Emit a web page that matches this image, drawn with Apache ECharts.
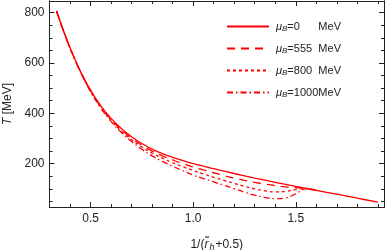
<!DOCTYPE html>
<html><head><meta charset="utf-8">
<script src="https://cdn.jsdelivr.net/npm/echarts@6/dist/echarts.min.js"></script>
<style>html,body{margin:0;padding:0;background:#fff}#c{width:386px;height:250px}</style>
</head><body><div id="c"></div>
<script>
// ---- data ----
const seriesNames = ['μB=0', 'μB=555', 'μB=800', 'μB=1000'];
const legendValues = ['=0', '=555', '=800', '=1000'];
const xSolid = [0.334,0.367,0.4,0.45,0.5,0.55,0.6,0.65,0.7,0.75,0.8,0.85,0.9,0.95,1.0,1.1,1.2,1.3,1.4,1.5,1.6,1.7,1.8,1.9];
const tSolid = [806,730,660,568,492,430,380,340,307,280,258,240,225,212,200,180,161,143,126,110,94,79,63,47];
const xMu = [0.334,0.367,0.4,0.45,0.5,0.55,0.6,0.65,0.7,0.75,0.8,0.85,0.9,0.95,1.0,1.05,1.1,1.15,1.2,1.25,1.3,1.35,1.4,1.45,1.5,1.55,1.6];
const t555 = [806,730,660,567,490,427,376,335,301,273,250,231,215,200,187,175,164,153,143,134,126,119,113,108,105,102,94];
const t800 = [806,730,659,566,488,424,372,330,295,266,242,222,204,188,173,159,146,134,122,110,100,92,88,90,97,102,94];
const t1000 = [806,730,659,565,486,421,368,324,288,257,231,209,190,172,155,141,128,114,101,87,75,66,61,64,80,100,94];
const xMajor = [0.5, 1.0, 1.5];
const xMinor = [0.3,0.4,0.5,0.6,0.7,0.8,0.9,1.0,1.1,1.2,1.3,1.4,1.5,1.6,1.7,1.8,1.9];
const yMajor = [200, 400, 600, 800];
const yMinor = [50,100,150,200,250,300,350,400,450,500,550,600,650,700,750,800];
const xRange = [0.3, 1.93];
const yRange = [28, 846];

// ---- chart ----
const frameColor = '#222';
const font = "'Liberation Sans', Arial, sans-serif";
function pairs(xs, ys) { return xs.map((x, i) => [x, ys[i]]); }

function xAx(pos, ticks, len, labels, extra) {
  return Object.assign({
    type: 'value', position: pos, min: xRange[0], max: xRange[1],
    axisLine: { show: true, onZero: false, lineStyle: { color: frameColor, width: 1 } },
    axisTick: { show: true, inside: true, length: len, customValues: ticks, lineStyle: { color: frameColor } },
    axisLabel: labels ? { show: true, customValues: ticks, formatter: v => v.toFixed(1), color: '#222', fontSize: 12, fontFamily: font, margin: 6 } : { show: false },
    splitLine: { show: false }
  }, extra || {});
}
function yAx(pos, ticks, len, labels, extra) {
  return Object.assign({
    type: 'value', position: pos, min: yRange[0], max: yRange[1],
    axisLine: { show: true, onZero: false, lineStyle: { color: frameColor, width: 1 } },
    axisTick: { show: true, inside: true, length: len, customValues: ticks, lineStyle: { color: frameColor } },
    axisLabel: labels ? { show: true, customValues: ticks, color: '#222', fontSize: 12, fontFamily: font, margin: 5 } : { show: false },
    splitLine: { show: false }
  }, extra || {});
}

const chart = echarts.init(document.getElementById('c'), null, { renderer: 'canvas' });
const red = '#ff0000';
const styles = [
  { type: 'solid' },
  { type: [8, 6] },
  { type: [3, 3] },
  { type: [6, 3, 1.5, 3] }
];
const dataSets = [pairs(xSolid, tSolid), pairs(xMu, t555), pairs(xMu, t800), pairs(xMu, t1000)];

chart.setOption({
  animation: false,
  grid: { left: 49.5, right: 2, top: 1, bottom: 43, containLabel: false, outerBoundsMode: 'none' },
  xAxis: [
    xAx('bottom', xMajor, 5, true, {
      name: '1/({i|r\u0303}{s|h}+0.5)', nameLocation: 'middle', nameGap: 30,
      nameTextStyle: { color: '#222', fontSize: 12, fontFamily: font,
        rich: { i: { fontStyle: 'italic', fontSize: 12, fontFamily: font, color: '#222' },
                s: { fontStyle: 'italic', fontSize: 9, fontFamily: font, color: '#222', verticalAlign: 'bottom', padding: [6, 1, 0, 1] } } }
    }),
    xAx('bottom', xMinor, 3, false),
    xAx('top', xMajor, 5, false),
    xAx('top', xMinor, 3, false)
  ],
  yAxis: [
    yAx('left', yMajor, 5, true, {
      name: '{i|T} [MeV]', nameLocation: 'middle', nameGap: 36,
      nameTextStyle: { color: '#222', fontSize: 12, fontFamily: font,
        rich: { i: { fontStyle: 'italic', fontSize: 12, fontFamily: font, color: '#222' } } }
    }),
    yAx('left', yMinor, 3, false),
    yAx('right', yMajor, 5, false),
    yAx('right', yMinor, 3, false)
  ],
  legend: {
    orient: 'vertical', left: 221, top: 16,
    itemWidth: 42, itemHeight: 10, itemGap: 10,
    itemStyle: { opacity: 0, borderWidth: 0 },
    data: seriesNames,
    formatter: function (name) {
      const i = seriesNames.indexOf(name);
      return '{m|μ}{b|B}{v|' + legendValues[i] + '}{u|MeV}';
    },
    textStyle: {
      color: '#222', fontFamily: font, fontSize: 11, padding: [0, 0, 0, 2],
      rich: {
        m: { fontStyle: 'italic', fontSize: 11, fontFamily: font, color: '#222' },
        b: { fontStyle: 'italic', fontSize: 8, fontFamily: font, color: '#222', padding: [5, 0, 0, 0] },
        v: { fontSize: 11, fontFamily: font, color: '#222', width: 31 },
        u: { fontSize: 11, fontFamily: font, color: '#222' }
      }
    }
  },
  series: seriesNames.map((n, i) => ({
    name: n, type: 'line', xAxisIndex: 0, yAxisIndex: 0,
    data: dataSets[i], symbol: 'none', showSymbol: false,
    smooth: 0.4,
    lineStyle: Object.assign({ color: red, width: 1.3 }, styles[i]),
    itemStyle: { color: red },
    z: 10 - i
  }))
});
</script></body></html>
